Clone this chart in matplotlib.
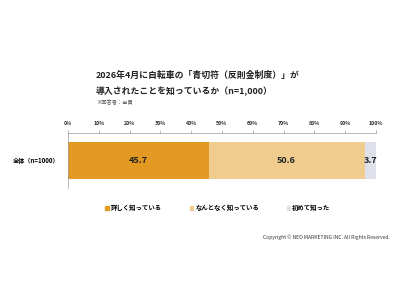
import matplotlib
matplotlib.use('Agg')
import matplotlib.pyplot as plt
import matplotlib.patches as mpatches

plt.rcParams['font.family'] = ['Noto Sans CJK JP', 'DejaVu Sans']

# データ
categories = ['全体（n=1000）']
series_names = ['詳しく知っている', 'なんとなく知っている', '初めて知った']
values = [[45.7], [50.6], [3.7]]
colors = ['#E39A22', '#F0CD8F', '#DEE0EA']
ticks = [0, 10, 20, 30, 40, 50, 60, 70, 80, 90, 100]
tick_labels = [f'{t}%' for t in ticks]

fig = plt.figure(figsize=(4, 3), dpi=100)
ax = fig.add_axes([0.17, 0.373, 0.77, 0.184])

left = [0] * len(categories)
for name, vals, col in zip(series_names, values, colors):
    ax.barh(categories, vals, left=left, color=col, height=0.66, label=name)
    for i, v in enumerate(vals):
        ax.text(left[i] + v / 2, i, f'{v}', ha='center', va='center',
                fontsize=6.5, fontweight='bold', color='#222222')
    left = [l + v for l, v in zip(left, vals)]

ax.set_xlim(0, 100)
ax.set_ylim(-0.5, 0.5)
ax.invert_yaxis()
ax.xaxis.tick_top()
ax.set_xticks(ticks)
ax.set_xticklabels(tick_labels, fontsize=3.8, fontweight='bold', color='#333333')
ax.tick_params(axis='x', length=2, width=0.5, color='#999999', pad=3)
ax.tick_params(axis='y', length=0, labelsize=4.4, pad=6)
for lbl in ax.get_yticklabels():
    lbl.set_fontweight('bold')
for s in ['right', 'bottom']:
    ax.spines[s].set_visible(False)
ax.spines['top'].set_color('#999999')
ax.spines['top'].set_linewidth(0.5)
ax.spines['left'].set_color('#999999')
ax.spines['left'].set_linewidth(0.5)

# タイトル
fig.text(0.24, 0.75, '2026年4月に自転車の「青切符（反則金制度）」が',
         fontsize=6.4, fontweight='bold', va='center', color='#222222')
fig.text(0.24, 0.697, '導入されたことを知っているか（n=1,000）',
         fontsize=6.4, fontweight='bold', va='center', color='#222222')
fig.text(0.24, 0.657, '※回答者：全員', fontsize=3.8, va='center', color='#555555')

# 凡例
handles = [mpatches.Patch(color=c, label=n) for n, c in zip(series_names, colors)]
fig.legend(handles=handles, loc='center', bbox_to_anchor=(0.545, 0.307), ncol=3,
           frameon=False, handlelength=0.6, handleheight=0.6,
           handletextpad=0.3, columnspacing=4.3, prop={'weight': 'bold', 'size': 4.6})

fig.text(0.975, 0.21, 'Copyright © NEO MARKETING INC. All Rights Reserved.',
         fontsize=3.6, ha='right', va='center', color='#333333')

fig.savefig('out.png', dpi=100)
